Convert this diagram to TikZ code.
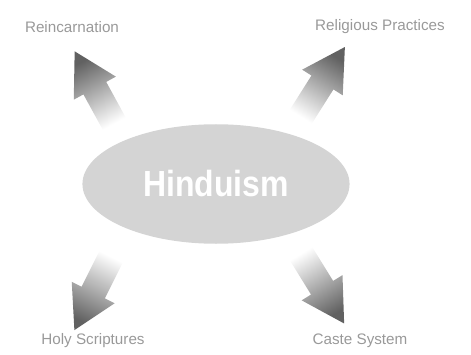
\documentclass[tikz,border=0pt]{standalone}
\usepackage{fontspec}
\setmainfont{Liberation Sans}
\usepackage{tikz}
\usetikzlibrary{shapes,positioning,calc}

\begin{document}
\begin{tikzpicture}[x=0.03cm, y=0.03cm,
    hub/.style={ellipse, fill=black!17, minimum width=228, minimum height=102, inner sep=0},
    topic/.style={text=black!40, font=\fontsize{13}{15}\selectfont},
    blockarrow/.style={top color=black!62, middle color=black!40, bottom color=white}
]
\useasboundingbox (0,0) rectangle (471,354);

% central idea
\node (hub) at (216,170) [hub] {};
\node (hubtext) at (hub.center) [text=white, font=\fontsize{31}{33}\selectfont\bfseries, xscale=0.88] {Hinduism};

% topics round it
\node (tl) at (72,327) [topic] {Reincarnation};
\node (tr) at (380,327) [topic] {Religious Practices};
\node (bl) at (93,13) [topic] {Holy Scriptures};
\node (br) at (360,13) [topic] {Caste System};

% shaded arrows pointing out
\foreach \x/\y/\a/\s in {115/229/118.7/28.7, 300/236/57.7/-32.3, 112/99/243.4/153.4, 300/102/301.7/211.7} {
  \begin{scope}[shift={(\x,\y)}, rotate=\a]
    \shade[blockarrow, shading angle=\s] (0,-13) -- (42,-13) -- (42,-24) -- (84,0) -- (42,24) -- (42,13) -- (0,13) -- cycle;
  \end{scope}
}

\end{tikzpicture}
\end{document}
